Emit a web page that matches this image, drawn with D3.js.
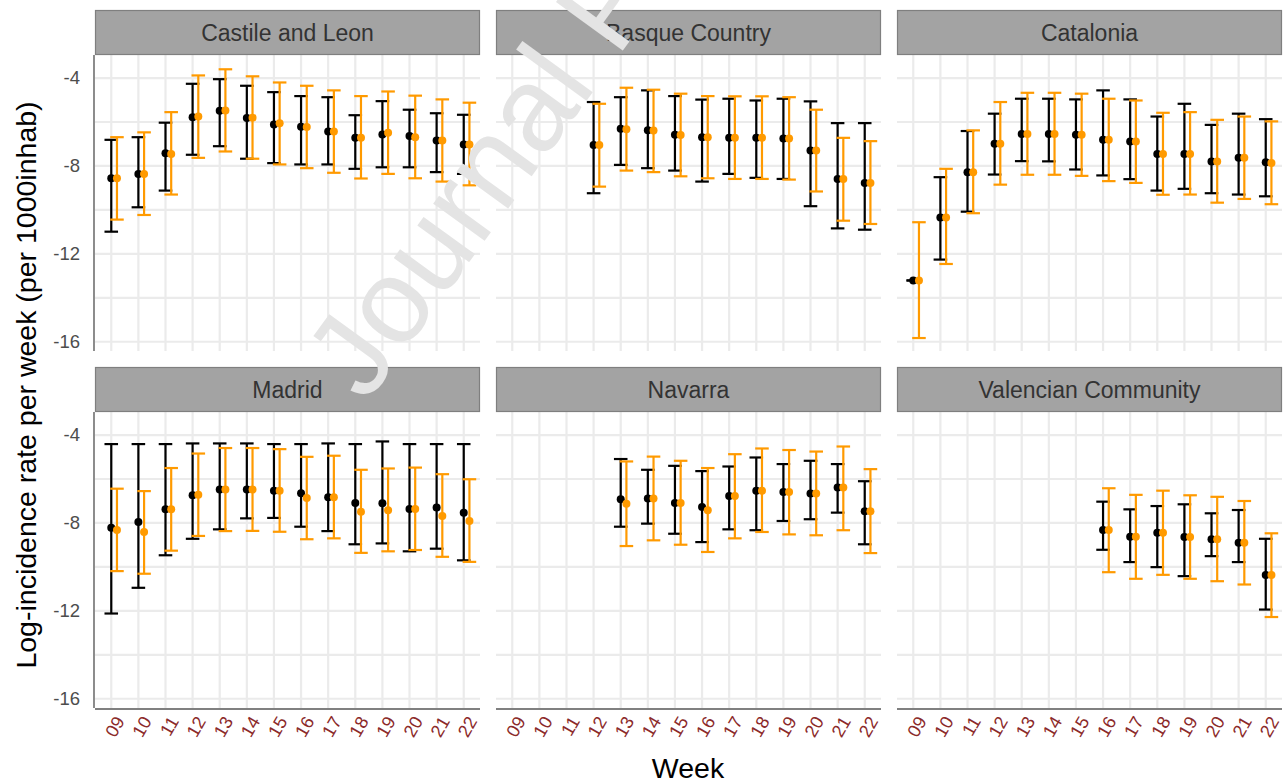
<!DOCTYPE html>
<html>
<head>
<meta charset="utf-8">
<script src="https://cdn.jsdelivr.net/npm/d3@7"></script>
<style>
  body { margin: 0; background: #fff; }
  svg { display: block; font-family: "Liberation Sans", Arial, sans-serif; }
</style>
</head>
<body>
<svg id="chart" width="1287" height="783"></svg>
<script>
// week categories and facet names
var weeks = ["09", "10", "11", "12", "13", "14", "15", "16", "17", "18", "19", "20", "21", "22"];
var regions = ["Castile and Leon", "Basque Country", "Catalonia", "Madrid", "Navarra", "Valencian Community"];
var yTicks = [-4, -8, -12, -16];
var yGrid = [-4, -6, -8, -10, -12, -14, -16];

// [estimate, lower, upper] per week, null = no data
var castileObs = [[-8.56, -10.99, -6.81], [-8.36, -9.88, -6.69], [-7.42, -9.12, -6.03], [-5.78, -7.49, -4.26], [-5.49, -7.10, -4.05], [-5.82, -7.67, -4.35], [-6.11, -7.87, -4.64], [-6.22, -7.93, -4.82], [-6.43, -7.93, -4.87], [-6.72, -8.13, -5.69], [-6.57, -8.06, -5.05], [-6.64, -8.06, -5.44], [-6.84, -8.28, -5.60], [-7.02, -8.36, -5.67]];
var castilePred = [[-8.56, -10.44, -6.69], [-8.36, -10.23, -6.47], [-7.45, -9.30, -5.55], [-5.75, -7.63, -3.88], [-5.47, -7.34, -3.60], [-5.80, -7.67, -3.92], [-6.06, -7.93, -4.20], [-6.23, -8.10, -4.35], [-6.43, -8.31, -4.56], [-6.72, -8.57, -4.82], [-6.49, -8.36, -4.61], [-6.69, -8.56, -4.80], [-6.84, -8.71, -4.97], [-7.02, -8.88, -5.12]];

var basqueObs = [null, null, null, [-7.04, -9.24, -5.09], [-6.31, -7.95, -4.87], [-6.38, -8.10, -4.56], [-6.58, -8.21, -4.82], [-6.69, -8.71, -4.98], [-6.72, -8.36, -4.94], [-6.72, -8.54, -5.02], [-6.75, -8.59, -4.94], [-7.30, -9.83, -5.06], [-8.59, -10.84, -6.05], [-8.77, -10.90, -6.05]];
var basquePred = [null, null, null, [-7.04, -8.94, -5.17], [-6.33, -8.21, -4.44], [-6.39, -8.28, -4.53], [-6.59, -8.47, -4.71], [-6.69, -8.56, -4.82], [-6.72, -8.59, -4.83], [-6.72, -8.59, -4.83], [-6.75, -8.62, -4.87], [-7.30, -9.16, -5.44], [-8.59, -10.49, -6.72], [-8.77, -10.64, -6.87]];

var cataloniaObs = [[-13.21, -13.21, -13.21], [-10.34, -12.26, -8.51], [-8.28, -10.08, -6.41], [-6.99, -8.39, -5.62], [-6.54, -7.78, -4.94], [-6.54, -7.79, -4.94], [-6.58, -8.16, -4.97], [-6.81, -8.43, -4.56], [-6.89, -8.60, -4.97], [-7.45, -9.12, -5.75], [-7.45, -9.04, -5.17], [-7.80, -9.24, -6.13], [-7.63, -9.30, -5.62], [-7.83, -9.38, -5.87]];
var cataloniaPred = [[-13.21, -15.83, -10.56], [-10.34, -12.46, -8.13], [-8.28, -10.15, -6.38], [-6.99, -8.85, -5.09], [-6.54, -8.40, -4.67], [-6.54, -8.40, -4.67], [-6.58, -8.45, -4.71], [-6.81, -8.69, -4.94], [-6.89, -8.77, -5.02], [-7.45, -9.31, -5.58], [-7.45, -9.30, -5.55], [-7.80, -9.67, -5.90], [-7.63, -9.50, -5.75], [-7.87, -9.74, -5.97]];

var madridObs = [[-8.22, -12.12, -4.41], [-7.96, -10.95, -4.41], [-7.38, -9.47, -4.41], [-6.74, -8.72, -4.38], [-6.48, -8.29, -4.38], [-6.48, -7.79, -4.38], [-6.53, -7.77, -4.41], [-6.65, -8.17, -4.41], [-6.83, -8.37, -4.38], [-7.09, -8.97, -4.41], [-7.10, -8.93, -4.29], [-7.36, -9.29, -4.41], [-7.30, -9.17, -4.41], [-7.53, -9.70, -4.41]];
var madridPred = [[-8.32, -10.19, -6.44], [-8.41, -10.31, -6.55], [-7.38, -9.26, -5.50], [-6.71, -8.59, -4.84], [-6.48, -8.37, -4.59], [-6.48, -8.36, -4.59], [-6.53, -8.40, -4.64], [-6.86, -8.74, -4.99], [-6.83, -8.70, -4.94], [-7.49, -9.36, -5.58], [-7.42, -9.29, -5.52], [-7.36, -9.23, -5.48], [-7.68, -9.54, -5.78], [-7.91, -9.77, -6.01]];

var navarraObs = [null, null, null, null, [-6.92, -8.17, -5.09], [-6.89, -8.03, -5.58], [-7.09, -8.49, -5.40], [-7.27, -8.87, -5.64], [-6.77, -8.29, -5.43], [-6.53, -8.33, -5.02], [-6.59, -7.91, -5.32], [-6.66, -7.83, -5.17], [-6.39, -7.53, -5.32], [-7.47, -8.97, -6.10]];
var navarraPred = [null, null, null, null, [-7.12, -9.05, -5.20], [-6.89, -8.79, -4.98], [-7.09, -8.99, -5.17], [-7.42, -9.32, -5.50], [-6.77, -8.70, -4.87], [-6.53, -8.41, -4.61], [-6.59, -8.52, -4.68], [-6.66, -8.56, -4.75], [-6.39, -8.33, -4.52], [-7.47, -9.37, -5.55]];

var valenciaObs = [null, null, null, null, null, null, null, [-8.32, -9.22, -7.03], [-8.63, -9.78, -7.38], [-8.44, -10.01, -7.23], [-8.64, -10.42, -7.15], [-8.74, -9.51, -7.56], [-8.90, -9.78, -7.41], [-10.37, -11.94, -8.72]];
var valenciaPred = [null, null, null, null, null, null, null, [-8.32, -10.24, -6.42], [-8.63, -10.54, -6.72], [-8.44, -10.36, -6.53], [-8.64, -10.54, -6.74], [-8.74, -10.65, -6.81], [-8.90, -10.80, -7.00], [-10.37, -12.28, -8.47]];

var obsByRegion = [castileObs, basqueObs, cataloniaObs, madridObs, navarraObs, valenciaObs];
var predByRegion = [castilePred, basquePred, cataloniaPred, madridPred, navarraPred, valenciaPred];

var svg = d3.select("#chart");

var colX = [95, 496, 897], panelW = 385;
var rowY = [10, 367], stripH = 45, panelH = 296;
var black = "#000000", orange = "#FF9A00";

var x = d3.scalePoint().domain(weeks).range([0, panelW]).padding(0.6);
var step = x.step();
var y = d3.scaleLinear().domain([-16.42, -2.95]).range([panelH, 0]);

regions.forEach(function (name, i) {
  var col = i % 3, row = Math.floor(i / 3);
  var g = svg.append("g")
    .attr("transform", "translate(" + colX[col] + "," + (rowY[row] + stripH) + ")");

  // grid
  g.selectAll(".hgrid").data(yGrid).enter().append("line")
    .attr("x1", 0).attr("x2", panelW)
    .attr("y1", d => y(d)).attr("y2", d => y(d))
    .attr("stroke", "#ebebeb").attr("stroke-width", 2.2);
  g.selectAll(".vgrid").data(weeks).enter().append("line")
    .attr("x1", d => x(d)).attr("x2", d => x(d))
    .attr("y1", 0).attr("y2", panelH)
    .attr("stroke", "#ebebeb").attr("stroke-width", 2.2);

  // strip
  var strip = svg.append("g")
    .attr("transform", "translate(" + colX[col] + "," + rowY[row] + ")");
  strip.append("rect")
    .attr("x", 0.5).attr("y", 0.5)
    .attr("width", panelW - 1).attr("height", stripH - 1)
    .attr("fill", "#a3a3a3").attr("stroke", "#7f7f7f").attr("stroke-width", 1.2);
  strip.append("text")
    .attr("x", panelW / 2).attr("y", stripH / 2)
    .attr("dy", "0.36em")
    .attr("text-anchor", "middle")
    .attr("font-size", 23).attr("fill", "#333333")
    .text(name);

  // error bars and points
  function series(data, color, shift) {
    var pts = weeks.map(function (w, k) {
      return data[k] ? { w: w, est: data[k][0], lo: data[k][1], hi: data[k][2] } : null;
    }).filter(d => d);
    var cx = d => x(d.w) + shift * step;
    var half = step * 0.25;
    var eb = g.append("g").attr("stroke", color).attr("stroke-width", 2.2).attr("fill", "none");
    eb.selectAll(".v").data(pts).enter().append("line")
      .attr("x1", cx).attr("x2", cx)
      .attr("y1", d => y(d.lo)).attr("y2", d => y(d.hi));
    eb.selectAll(".t").data(pts).enter().append("line")
      .attr("x1", d => cx(d) - half).attr("x2", d => cx(d) + half)
      .attr("y1", d => y(d.hi)).attr("y2", d => y(d.hi));
    eb.selectAll(".b").data(pts).enter().append("line")
      .attr("x1", d => cx(d) - half).attr("x2", d => cx(d) + half)
      .attr("y1", d => y(d.lo)).attr("y2", d => y(d.lo));
    g.append("g").selectAll("circle").data(pts).enter().append("circle")
      .attr("cx", cx).attr("cy", d => y(d.est))
      .attr("r", 4).attr("fill", color);
  }
  series(obsByRegion[i], black, 0);
  series(predByRegion[i], orange, 0.21);

  // axes
  if (col === 0) {
    g.append("line")
      .attr("x1", -1).attr("x2", -1).attr("y1", 0).attr("y2", panelH)
      .attr("stroke", "#808080").attr("stroke-width", 1.8);
    var ya = g.append("g")
      .call(d3.axisLeft(y).tickValues(yTicks).tickSize(0).tickPadding(15)
        .tickFormat(d => String(d)));
    ya.select(".domain").remove();
    ya.selectAll("text").attr("font-size", 18.5).attr("fill", "#4d4d4d")
      .attr("font-family", "Liberation Sans, Arial, sans-serif");
  }
  if (row === 1) {
    g.append("line")
      .attr("x1", 0).attr("x2", panelW).attr("y1", panelH + 1).attr("y2", panelH + 1)
      .attr("stroke", "#808080").attr("stroke-width", 1.8);
    var xa = g.append("g")
      .attr("transform", "translate(0," + panelH + ")")
      .call(d3.axisBottom(x).tickSize(0).tickFormat(d => d));
    xa.select(".domain").remove();
    xa.selectAll("text")
      .attr("font-size", 18).attr("fill", "#8B2A2A")
      .attr("font-family", "Liberation Sans, Arial, sans-serif")
      .attr("text-anchor", "end")
      .attr("y", 0).attr("dy", "0.35em")
      .attr("transform", "translate(8,10) rotate(-60)");
  }
});

// axis titles
svg.append("text")
  .attr("x", 688).attr("y", 778)
  .attr("text-anchor", "middle")
  .attr("font-size", 28.5).attr("fill", "#000")
  .text("Week");
svg.append("text")
  .attr("transform", "translate(36,385) rotate(-90)")
  .attr("text-anchor", "middle")
  .attr("font-size", 28.5).attr("fill", "#000")
  .text("Log-incidence rate per week (per 1000inhab)");

// watermark
svg.append("text")
  .attr("transform", "translate(366,404) rotate(-54)")
  .attr("font-size", 120).attr("fill", "#e4e4e4")
  .text("Journal Pre-proof");
</script>
</body>
</html>
